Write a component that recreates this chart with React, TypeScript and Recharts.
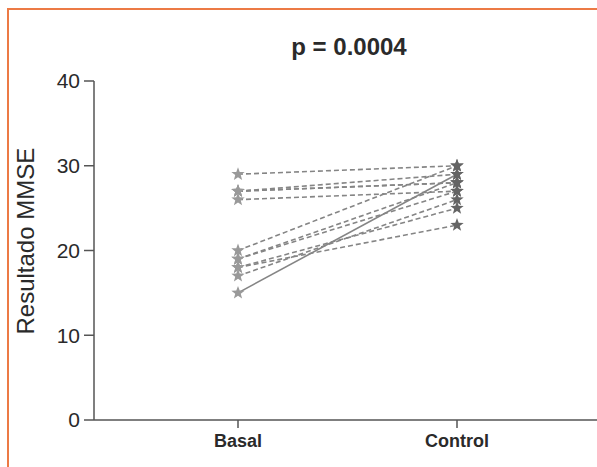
import React from 'react';
import { LineChart, Line, XAxis, YAxis } from 'recharts';

const categories = ['Basal', 'Control'];
const basalValues = [29, 27, 27, 27, 26, 20, 19, 19, 18, 18, 17, 15];
const controlValues = [30, 28, 29, 28, 27, 30, 28, 27, 25, 23, 26, 29];
const yTicks = [0, 10, 20, 30, 40];
const title = 'p = 0.0004';
const yLabel = 'Resultado MMSE';

const data = categories.map((name, i) => {
  const row: Record<string, any> = { name };
  basalValues.forEach((b, k) => {
    row['s' + k] = i === 0 ? b : controlValues[k];
  });
  return row;
});

const Star = (props: any) => {
  const { cx, cy, index } = props;
  if (cx == null || cy == null) return null;
  const R = 7;
  const r = 2.9;
  const pts: string[] = [];
  for (let j = 0; j < 10; j++) {
    const rad = j % 2 === 0 ? R : r;
    const a = -Math.PI / 2 + (j * Math.PI) / 5;
    pts.push(`${cx + rad * Math.cos(a)},${cy + rad * Math.sin(a)}`);
  }
  return (
    <polygon
      key={props.key ?? `st-${props.dataKey}-${index}`}
      points={pts.join(' ')}
      fill={index === 0 ? '#999999' : '#646464'}
    />
  );
};

const font = '"Liberation Sans", Arial, sans-serif';

export default function App() {
  return (
    <div style={{ position: 'absolute', left: 0, top: 0, width: 597, height: 467, background: '#fff', overflow: 'hidden' }}>
      <div
        style={{
          position: 'absolute',
          left: 7,
          top: 8,
          width: 640,
          height: 520,
          borderLeft: '2px solid #ec7a45',
          borderTop: '2px solid #ec7a45',
        }}
      />
      <div
        style={{
          position: 'absolute',
          left: 249,
          width: 200,
          top: 33,
          textAlign: 'center',
          fontFamily: font,
          fontWeight: 'bold',
          fontSize: 24,
          color: '#2a2a2a',
        }}
      >
        {title}
      </div>
      <div style={{ position: 'absolute', left: 0, top: 0 }}>
        <LineChart
          width={597}
          height={467}
          data={data}
          margin={{ top: 81, right: 0, bottom: 17, left: 0 }}
          style={{ fontFamily: font }}
        >
          <XAxis
            dataKey="name"
            padding={{ left: 144, right: 140 }}
            height={30}
            tickSize={8}
            tickMargin={6}
            axisLine={{ stroke: '#555', strokeWidth: 1.5 }}
            tickLine={{ stroke: '#555', strokeWidth: 1.5 }}
            tick={{ fill: '#2a2a2a', fontSize: 18, fontWeight: 'bold' }}
          />
          <YAxis
            type="number"
            domain={[0, 40]}
            ticks={yTicks}
            width={94}
            tickSize={10}
            tickMargin={4}
            axisLine={{ stroke: '#555', strokeWidth: 1.5 }}
            tickLine={{ stroke: '#555', strokeWidth: 1.5 }}
            tick={{ fill: '#2a2a2a', fontSize: 21 }}
            label={{ value: yLabel, angle: -90, position: 'insideLeft', dx: 20, dy: 84, fill: '#2a2a2a', fontSize: 24 }}
          />
          {basalValues.map((_, k) => (
            <Line
              key={k}
              dataKey={'s' + k}
              isAnimationActive={false}
              stroke="#858585"
              strokeWidth={1.6}
              strokeDasharray={k === basalValues.length - 1 ? undefined : '5 3'}
              dot={Star}
              activeDot={false}
            />
          ))}
        </LineChart>
      </div>
    </div>
  );
}
